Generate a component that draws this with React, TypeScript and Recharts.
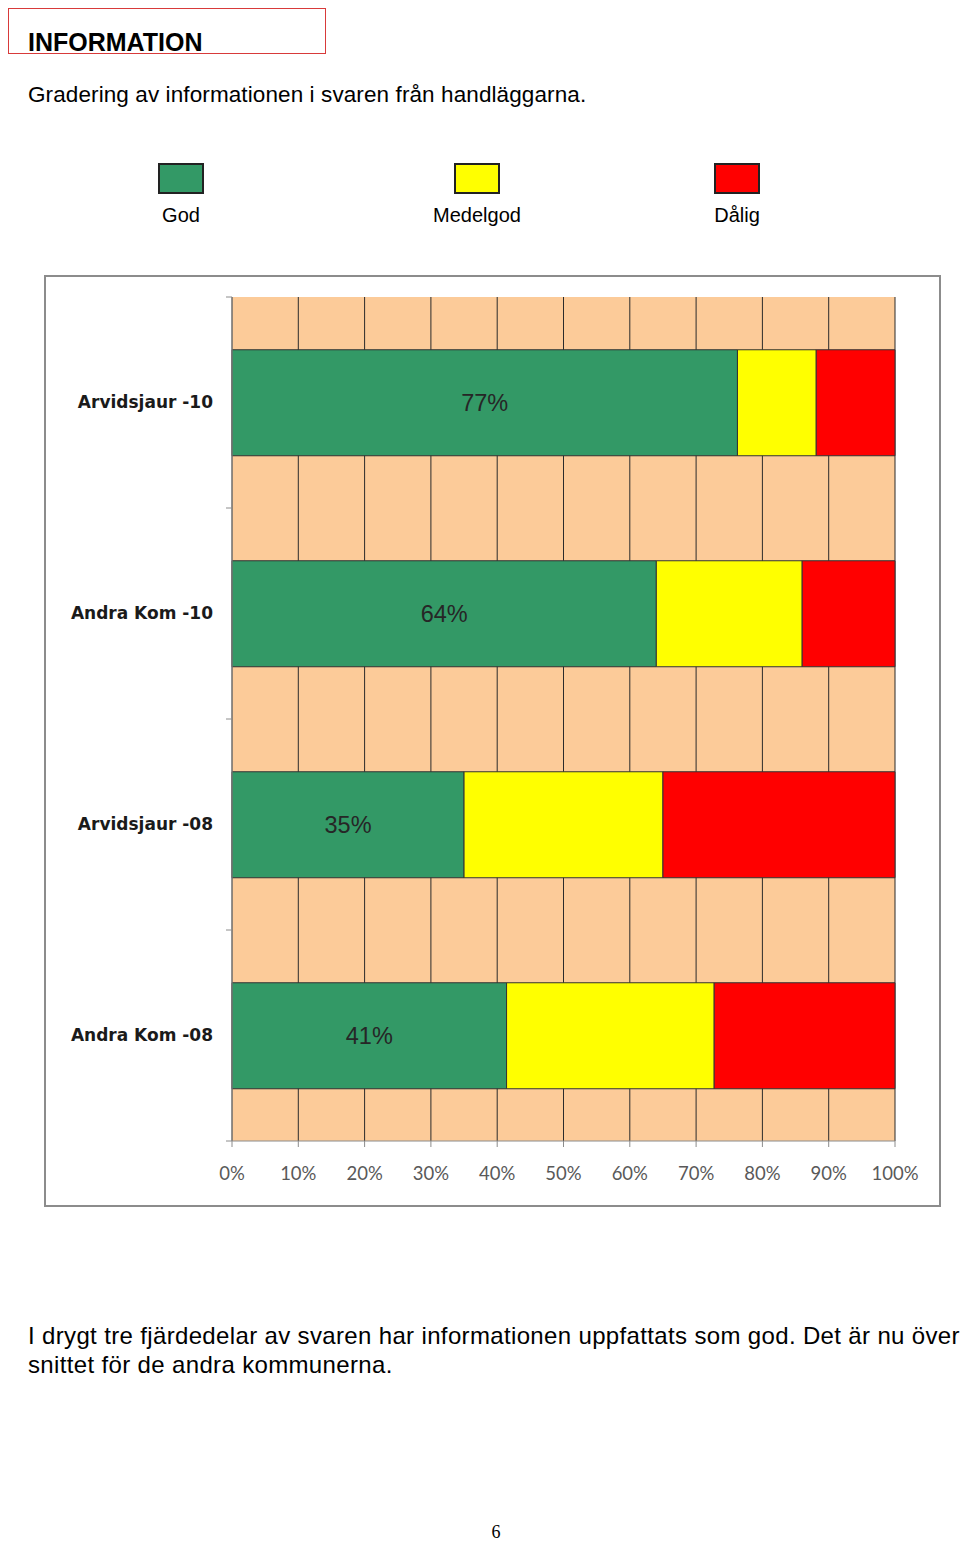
import React from 'react';
import { BarChart, Bar, XAxis, YAxis, CartesianGrid, LabelList } from 'recharts';

// categories top to bottom
const categories = ['Arvidsjaur -10', 'Andra Kom -10', 'Arvidsjaur -08', 'Andra Kom -08'];
const god = [77, 64, 35, 41];
const medelgod = [12, 22, 30, 31];
const dalig = [12, 14, 35, 27];
const xTicks = [0, 0.1, 0.2, 0.3, 0.4, 0.5, 0.6, 0.7, 0.8, 0.9, 1];

const seriesNames = ['God', 'Medelgod', 'Dålig'];
const colors = ['#339966', '#FFFF00', '#FF0000'];

const data = categories.map((name, i) => ({
  name,
  god: god[i],
  medelgod: medelgod[i],
  dalig: dalig[i],
}));

const CHART_W = 893;
const CHART_H = 928;
const YAXIS_W = 186;
const MARGIN = { top: 20, right: 44, bottom: 34, left: 0 };
const XAXIS_H = 30;
const BAND = (CHART_H - MARGIN.top - MARGIN.bottom - XAXIS_H) / categories.length;

const sans = '"Liberation Sans", Arial, sans-serif';

const YTick = (props: any) => {
  const { y, payload, index } = props;
  const ax = MARGIN.left + YAXIS_W;
  return (
    <g>
      <text
        x={ax - 19}
        y={y}
        dy="0.35em"
        textAnchor="end"
        fontFamily='"DejaVu Sans", Verdana, sans-serif'
        fontWeight="bold"
        fontSize={17}
        fill="#1a1a1a"
      >
        {payload.value}
      </text>
      <line x1={ax - 6} x2={ax} y1={y - BAND / 2} y2={y - BAND / 2} stroke="#8c8c8c" />
      {index === categories.length - 1 && (
        <line x1={ax - 6} x2={ax} y1={y + BAND / 2} y2={y + BAND / 2} stroke="#8c8c8c" />
      )}
    </g>
  );
};

export default function App() {
  return (
    <div style={{ position: 'absolute', left: 0, top: 0, width: 960, height: 1542, fontFamily: sans, color: '#000' }}>
      {/* title box */}
      <div
        style={{
          position: 'absolute',
          left: 8,
          top: 8,
          width: 318,
          height: 46,
          boxSizing: 'border-box',
          border: '1.5px solid #d83a3a',
        }}
      />
      <div style={{ position: 'absolute', left: 28, top: 28, fontSize: 25, fontWeight: 'bold', lineHeight: '28px' }}>
        INFORMATION
      </div>
      <div
        style={{
          position: 'absolute',
          left: 28,
          top: 82,
          fontSize: 22.5,
          letterSpacing: 0.1,
          lineHeight: '26px',
          whiteSpace: 'nowrap',
        }}
      >
        Gradering av informationen i svaren från handläggarna.
      </div>

      {/* legend */}
      {seriesNames.map((s, i) => {
        const cx = [181, 477, 737][i];
        return (
          <div key={s}>
            <div
              style={{
                position: 'absolute',
                left: cx - 23,
                top: 163,
                width: 46,
                height: 31,
                boxSizing: 'border-box',
                border: '2px solid #222',
                background: colors[i],
              }}
            />
            <div
              style={{
                position: 'absolute',
                left: cx - 60,
                width: 120,
                top: 203,
                textAlign: 'center',
                fontSize: 20,
                lineHeight: '24px',
              }}
            >
              {s}
            </div>
          </div>
        );
      })}

      {/* chart box */}
      <div
        style={{
          position: 'absolute',
          left: 44,
          top: 275,
          width: CHART_W + 4,
          height: CHART_H + 4,
          boxSizing: 'border-box',
          border: '2px solid #8c8c8c',
          background: '#fff',
        }}
      >
        <BarChart
          width={CHART_W}
          height={CHART_H}
          data={data}
          layout="vertical"
          stackOffset="expand"
          barCategoryGap="25%"
          margin={MARGIN}
        >
          <CartesianGrid horizontal={false} vertical={true} stroke="#2b2b2b" fill="#FCCB99" />
          <XAxis
            type="number"
            domain={[0, 1]}
            ticks={xTicks}
            tickFormatter={(v: number) => `${Math.round(v * 100)}%`}
            height={XAXIS_H}
            stroke="#8c8c8c"
            tickSize={6}
            tickMargin={20}
            tick={{ fill: '#595959', fontSize: 18.5, fontFamily: 'Lato, "Open Sans", sans-serif' }}
          />
          <YAxis
            type="category"
            dataKey="name"
            width={YAXIS_W}
            stroke="#8c8c8c"
            tickLine={false}
            tick={<YTick />}
            interval={0}
          />
          <Bar dataKey="god" stackId="a" fill={colors[0]} stroke="#333" strokeWidth={1} isAnimationActive={false}>
            <LabelList
              dataKey="god"
              position="center"
              formatter={(v: any) => `${v}%`}
              fill="#262626"
              fontSize={23.5}
              fontFamily={sans}
            />
          </Bar>
          <Bar dataKey="medelgod" stackId="a" fill={colors[1]} stroke="#333" strokeWidth={1} isAnimationActive={false} />
          <Bar dataKey="dalig" stackId="a" fill={colors[2]} stroke="#333" strokeWidth={1} isAnimationActive={false} />
        </BarChart>
      </div>

      {/* commentary */}
      <div
        style={{
          position: 'absolute',
          left: 28,
          top: 1321,
          fontSize: 24,
          letterSpacing: 0.35,
          lineHeight: '29px',
          whiteSpace: 'nowrap',
        }}
      >
        I drygt tre fjärdedelar av svaren har informationen uppfattats som god. Det är nu över
        <br />
        snittet för de andra kommunerna.
      </div>

      <div style={{ position: 'absolute', left: 0, width: 992, top: 1522, textAlign: 'center', fontFamily: '"Liberation Serif", serif', fontSize: 18 }}>
        6
      </div>
    </div>
  );
}
